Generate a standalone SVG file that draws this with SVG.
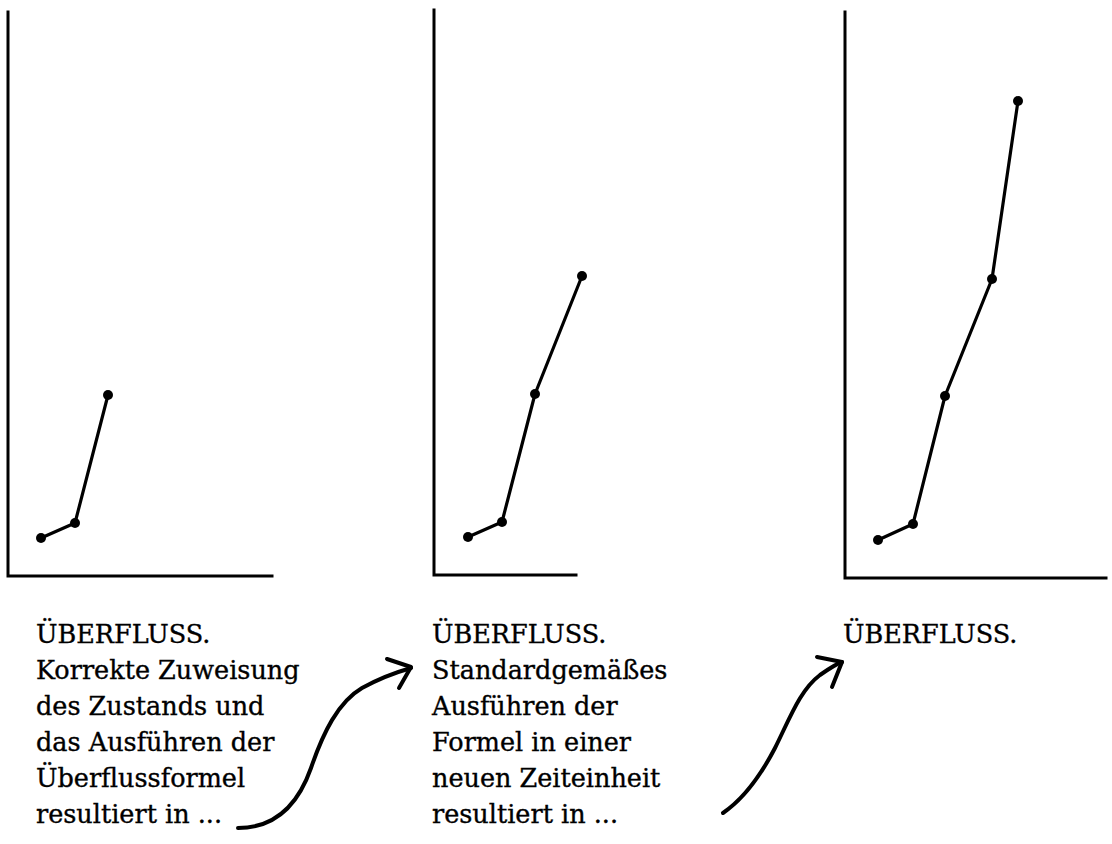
<svg xmlns="http://www.w3.org/2000/svg" width="1112" height="844" viewBox="0 0 1112 844">
<style>
.axis{fill:none;stroke:#000;stroke-width:3;stroke-linecap:square}
.data{fill:none;stroke:#000;stroke-width:3.2;stroke-linejoin:round}
.dot{fill:#000}
.arrow{fill:none;stroke:#000;stroke-width:4;stroke-linecap:round;stroke-linejoin:round}
.lbl{font-family:"DejaVu Serif","Liberation Serif",serif;font-size:25.5px;fill:#000;stroke:#000;stroke-width:0.35}
</style>
<rect width="1112" height="844" fill="#fff"/>
<g id="chart1">
<path class="axis" d="M8,12 V576 H272"/>
<polyline class="data" points="41,538 75,523 108,395"/>
<circle class="dot" cx="41" cy="538" r="5"/><circle class="dot" cx="75" cy="523" r="5"/><circle class="dot" cx="108" cy="395" r="5"/>
</g>
<g id="chart2">
<path class="axis" d="M434,10 V575 H576"/>
<polyline class="data" points="468,537 502,522 535,394 582,276"/>
<circle class="dot" cx="468" cy="537" r="5"/><circle class="dot" cx="502" cy="522" r="5"/><circle class="dot" cx="535" cy="394" r="5"/><circle class="dot" cx="582" cy="276" r="5"/>
</g>
<g id="chart3">
<path class="axis" d="M845,12 V578 H1106"/>
<polyline class="data" points="878,540 913,524 945,396 992,279 1018,101"/>
<circle class="dot" cx="878" cy="540" r="5"/><circle class="dot" cx="913" cy="524" r="5"/><circle class="dot" cx="945" cy="396" r="5"/><circle class="dot" cx="992" cy="279" r="5"/><circle class="dot" cx="1018" cy="101" r="5"/>
</g>
<g id="label1" class="lbl">
<text x="36" y="643">ÜBERFLUSS.</text>
<text x="36" y="679">Korrekte Zuweisung</text>
<text x="36" y="715">des Zustands und</text>
<text x="36" y="751">das Ausführen der</text>
<text x="36" y="787">Überflussformel</text>
<text x="36" y="823">resultiert in ...</text>
</g>
<g id="label2" class="lbl">
<text x="432" y="643">ÜBERFLUSS.</text>
<text x="432" y="679">Standardgemäßes</text>
<text x="432" y="715">Ausführen der</text>
<text x="432" y="751">Formel in einer</text>
<text x="432" y="787">neuen Zeiteinheit</text>
<text x="432" y="823">resultiert in ...</text>
</g>
<g id="label3" class="lbl">
<text x="843" y="643">ÜBERFLUSS.</text>
</g>
<g id="connectors">
<path class="arrow" d="M238,828 C275,828 298,805 311,768 C323,733 338,702 362,688 C382,677 397,672 411,668"/>
<path class="arrow" d="M387,659 L411,667 L399,688"/>
<path class="arrow" d="M723,813 C745,798 762,773 775,748 C790,718 800,690 820,675 C830,668 836,664 842,662"/>
<path class="arrow" d="M817,657 L842,662 L832,687"/>
</g>
</svg>
